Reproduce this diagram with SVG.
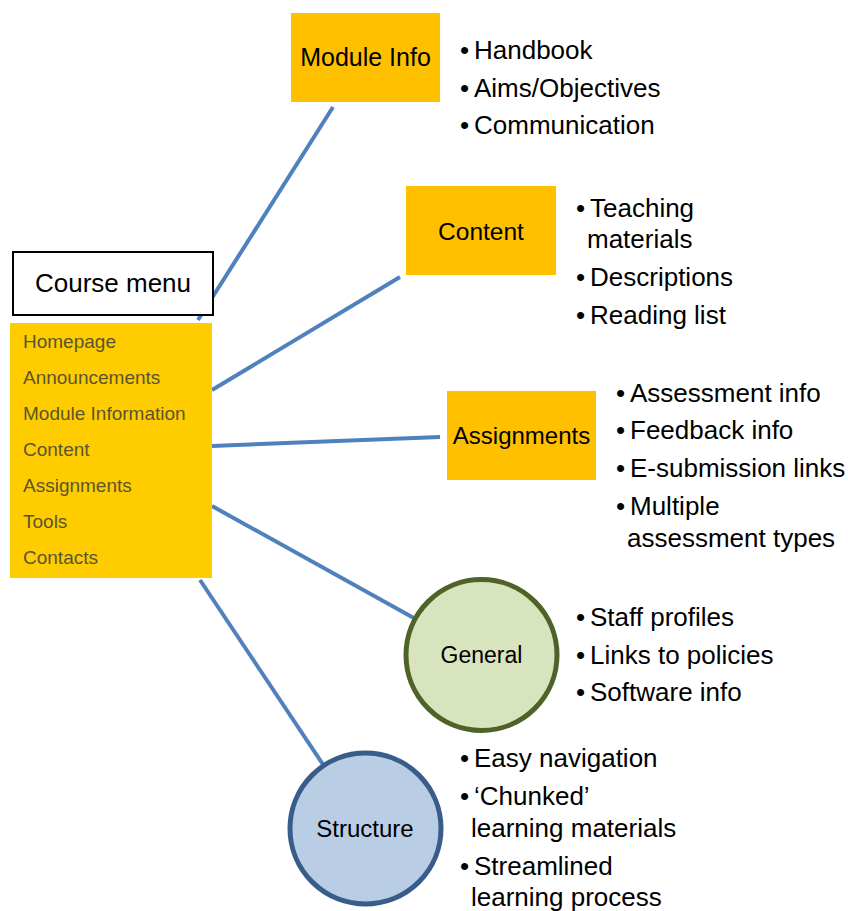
<svg xmlns="http://www.w3.org/2000/svg" width="848" height="911" viewBox="0 0 848 911">
<style>
.bx{fill:#FFC000}
.lbl{font-family:"Liberation Sans",Arial,sans-serif;font-size:24.5px;fill:#000;text-anchor:middle}
.bl{font-family:"Liberation Sans",Arial,sans-serif;font-size:26px;fill:#000}
.mi{font-family:"Liberation Sans",Arial,sans-serif;font-size:19px;fill:#5a5530}
.cn{stroke:#4F81BD;stroke-width:4;fill:none}
</style>
<rect width="848" height="911" fill="#fff"/>
<g id="connectors">
<line class="cn" x1="333" y1="107" x2="198" y2="320"/>
<line class="cn" x1="212" y1="390" x2="400" y2="277"/>
<line class="cn" x1="212" y1="446" x2="440" y2="437"/>
<line class="cn" x1="212" y1="506" x2="430" y2="627"/>
<line class="cn" x1="200" y1="580" x2="340" y2="790"/>
</g>
<g id="course-menu">
<rect x="13" y="252" width="200" height="63" fill="#fff" stroke="#000" stroke-width="2"/>
<text class="lbl" x="113" y="292" style="font-size:26px">Course menu</text>
</g>
<g id="menu-list">
<rect x="10" y="323" width="202" height="255" fill="#FFCC00"/>
<text class="mi" x="23" y="348">Homepage</text>
<text class="mi" x="23" y="384">Announcements</text>
<text class="mi" x="23" y="420">Module Information</text>
<text class="mi" x="23" y="456">Content</text>
<text class="mi" x="23" y="492">Assignments</text>
<text class="mi" x="23" y="528">Tools</text>
<text class="mi" x="23" y="564">Contacts</text>
</g>
<g id="module-info">
<rect class="bx" x="291" y="13" width="149" height="89"/>
<text class="lbl" x="365.5" y="66" style="font-size:25px">Module Info</text>
</g>
<g id="module-info-bullets">
<text class="bl" y="59"><tspan x="460">•</tspan><tspan x="474">Handbook</tspan></text>
<text class="bl" y="97"><tspan x="460">•</tspan><tspan x="474">Aims/Objectives</tspan></text>
<text class="bl" y="134"><tspan x="460">•</tspan><tspan x="474">Communication</tspan></text>
</g>
<g id="content">
<rect class="bx" x="406" y="186" width="150" height="89"/>
<text class="lbl" x="481" y="240">Content</text>
</g>
<g id="content-bullets">
<text class="bl" y="217"><tspan x="576">•</tspan><tspan x="590">Teaching</tspan></text>
<text class="bl" y="248"><tspan x="587">materials</tspan></text>
<text class="bl" y="286"><tspan x="576">•</tspan><tspan x="590">Descriptions</tspan></text>
<text class="bl" y="324"><tspan x="576">•</tspan><tspan x="590">Reading list</tspan></text>
</g>
<g id="assignments">
<rect class="bx" x="447" y="391" width="149" height="89"/>
<text class="lbl" x="521.5" y="444" style="font-size:24px">Assignments</text>
</g>
<g id="assignments-bullets">
<text class="bl" y="402"><tspan x="616">•</tspan><tspan x="630">Assessment info</tspan></text>
<text class="bl" y="439"><tspan x="616">•</tspan><tspan x="630">Feedback info</tspan></text>
<text class="bl" y="477"><tspan x="616">•</tspan><tspan x="630">E-submission links</tspan></text>
<text class="bl" y="515"><tspan x="616">•</tspan><tspan x="630">Multiple</tspan></text>
<text class="bl" y="547"><tspan x="627">assessment types</tspan></text>
</g>
<g id="general">
<circle cx="481.5" cy="655" r="75.5" fill="#D7E4BD" stroke="#4F6228" stroke-width="5"/>
<text class="lbl" x="481.5" y="663" style="font-size:23px">General</text>
</g>
<g id="general-bullets">
<text class="bl" y="626"><tspan x="576">•</tspan><tspan x="590">Staff profiles</tspan></text>
<text class="bl" y="664"><tspan x="576">•</tspan><tspan x="590">Links to policies</tspan></text>
<text class="bl" y="701"><tspan x="576">•</tspan><tspan x="590">Software info</tspan></text>
</g>
<g id="structure">
<circle cx="365.5" cy="828.5" r="75.5" fill="#B9CDE5" stroke="#385D8A" stroke-width="5"/>
<text class="lbl" x="365" y="837" style="font-size:24px">Structure</text>
</g>
<g id="structure-bullets">
<text class="bl" y="767"><tspan x="460">•</tspan><tspan x="474">Easy navigation</tspan></text>
<text class="bl" y="805"><tspan x="460">•</tspan><tspan x="474">‘Chunked’</tspan></text>
<text class="bl" y="837"><tspan x="471">learning materials</tspan></text>
<text class="bl" y="875"><tspan x="460">•</tspan><tspan x="474">Streamlined</tspan></text>
<text class="bl" y="906"><tspan x="471">learning process</tspan></text>
</g>
</svg>
